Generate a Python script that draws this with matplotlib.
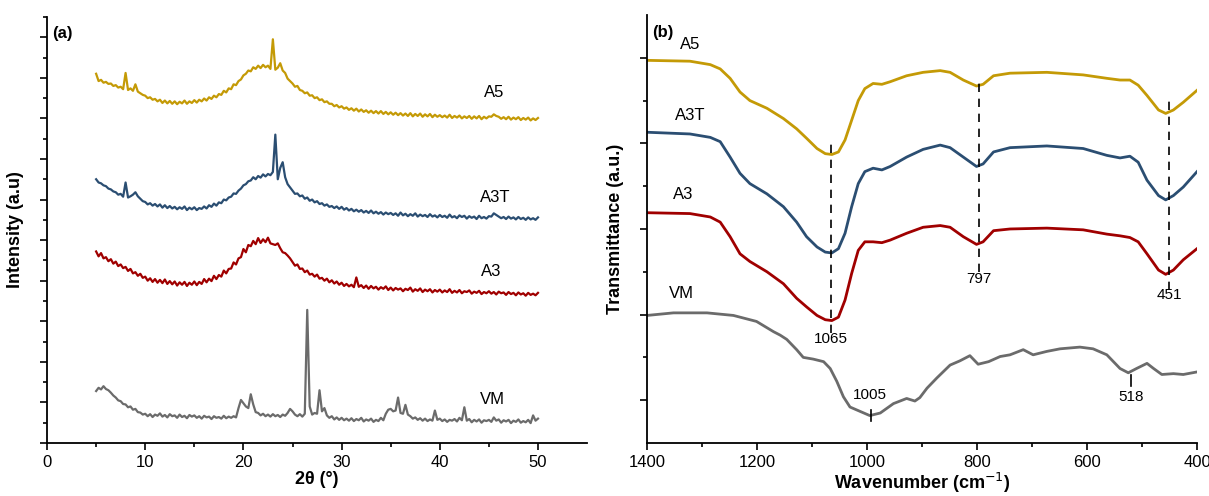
import numpy as np
import matplotlib.pyplot as plt
from matplotlib.ticker import MultipleLocator, FixedLocator

plt.rcParams['font.family'] = ['Liberation Sans', 'DejaVu Sans']

# ---- (a) XRD patterns, 2theta from 5 to 50 deg in 0.25 deg steps ----
two_theta = np.arange(5, 50.01, 0.25)

xrd_vm = [
    1.28, 1.36, 1.32, 1.40, 1.33, 1.30, 1.24, 1.17, 1.12, 1.05, 1.03, 0.96, 0.95, 0.88, 0.90, 0.82, 0.84, 0.76, 0.75, 0.70,
    0.72, 0.66, 0.71, 0.64, 0.70, 0.67, 0.73, 0.65, 0.69, 0.63, 0.71, 0.66, 0.68, 0.62, 0.70, 0.64, 0.67, 0.61, 0.69, 0.65,
    0.68, 0.62, 0.66, 0.60, 0.67, 0.63, 0.65, 0.59, 0.66, 0.62, 0.64, 0.60, 0.67, 0.61, 0.65, 0.62, 0.66, 0.63, 0.86, 1.06,
    0.98, 0.90, 0.86, 1.20, 0.95, 0.76, 0.74, 0.68, 0.72, 0.66, 0.70, 0.65, 0.71, 0.66, 0.69, 0.64, 0.70, 0.67, 0.74, 0.84,
    0.78, 0.70, 0.66, 0.71, 0.65, 0.72, 3.28, 0.90, 0.70, 0.74, 0.72, 1.30, 0.78, 0.86, 0.68, 0.62, 0.66, 0.58, 0.63, 0.57,
    0.62, 0.56, 0.60, 0.55, 0.61, 0.54, 0.59, 0.56, 0.62, 0.53, 0.58, 0.55, 0.60, 0.52, 0.57, 0.54, 0.62, 0.56, 0.72, 0.82,
    0.84, 0.78, 0.80, 1.12, 0.74, 0.72, 0.94, 0.70, 0.66, 0.60, 0.63, 0.57, 0.61, 0.55, 0.60, 0.54, 0.58, 0.55, 0.80, 0.57,
    0.60, 0.54, 0.58, 0.52, 0.57, 0.55, 0.59, 0.53, 0.62, 0.56, 0.88, 0.55, 0.59, 0.51, 0.57, 0.53, 0.58, 0.50, 0.56, 0.54,
    0.57, 0.52, 0.63, 0.55, 0.58, 0.50, 0.56, 0.53, 0.57, 0.49, 0.55, 0.52, 0.58, 0.50, 0.54, 0.51, 0.57, 0.49, 0.68, 0.55,
    0.60]

xrd_a3 = [
    4.72, 4.60, 4.68, 4.55, 4.58, 4.48, 4.53, 4.42, 4.47, 4.36, 4.40, 4.31, 4.34, 4.24, 4.29, 4.18, 4.21, 4.12, 4.17, 4.07,
    4.10, 4.00, 4.06, 3.97, 4.04, 3.95, 4.02, 3.94, 4.03, 3.92, 3.99, 3.91, 3.98, 3.88, 3.96, 3.90, 3.97, 3.87, 3.95, 3.90,
    3.98, 3.89, 3.97, 3.92, 4.04, 3.96, 4.05, 3.99, 4.12, 4.04, 4.14, 4.10, 4.25, 4.18, 4.29, 4.30, 4.45, 4.40, 4.55, 4.58,
    4.78, 4.70, 4.88, 4.85, 4.98, 4.90, 5.05, 4.93, 5.02, 4.95, 5.06, 4.92, 4.90, 4.88, 4.92, 4.80, 4.70, 4.68, 4.62, 4.55,
    4.46, 4.37, 4.40, 4.29, 4.30, 4.21, 4.25, 4.15, 4.17, 4.10, 4.15, 4.05, 4.07, 4.00, 4.05, 3.96, 4.01, 3.93, 3.98, 3.90,
    3.95, 3.87, 3.92, 3.86, 3.90, 3.84, 4.08, 3.85, 3.89, 3.82, 3.88, 3.80, 3.87, 3.81, 3.85, 3.78, 3.84, 3.80, 3.86, 3.77,
    3.83, 3.76, 3.82, 3.78, 3.81, 3.74, 3.80, 3.77, 3.83, 3.73, 3.79, 3.75, 3.81, 3.72, 3.78, 3.74, 3.79, 3.71, 3.77, 3.73,
    3.78, 3.71, 3.76, 3.72, 3.79, 3.70, 3.75, 3.71, 3.77, 3.69, 3.74, 3.72, 3.76, 3.68, 3.73, 3.70, 3.75, 3.67, 3.72, 3.69,
    3.74, 3.68, 3.72, 3.66, 3.73, 3.69, 3.71, 3.65, 3.72, 3.67, 3.70, 3.64, 3.71, 3.66, 3.69, 3.63, 3.70, 3.65, 3.68, 3.64,
    3.70]

xrd_a3t = [
    6.50, 6.42, 6.40, 6.35, 6.33, 6.27, 6.25, 6.20, 6.18, 6.12, 6.14, 6.07, 6.42, 6.05, 6.08, 6.12, 6.18, 6.08, 6.02, 5.96,
    5.94, 5.88, 5.91, 5.85, 5.89, 5.83, 5.88, 5.80, 5.86, 5.79, 5.84, 5.78, 5.82, 5.76, 5.81, 5.77, 5.83, 5.74, 5.80, 5.76,
    5.81, 5.74, 5.79, 5.77, 5.83, 5.78, 5.86, 5.82, 5.90, 5.85, 5.93, 5.91, 6.00, 5.98, 6.05, 6.07, 6.15, 6.14, 6.22, 6.27,
    6.35, 6.38, 6.45, 6.47, 6.55, 6.50, 6.58, 6.54, 6.62, 6.57, 6.63, 6.60, 6.68, 7.60, 6.50, 6.78, 6.92, 6.55, 6.38, 6.30,
    6.22, 6.14, 6.15, 6.08, 6.10, 6.02, 6.05, 5.97, 6.00, 5.93, 5.96, 5.89, 5.91, 5.85, 5.88, 5.82, 5.84, 5.79, 5.83, 5.77,
    5.82, 5.75, 5.79, 5.73, 5.77, 5.71, 5.75, 5.70, 5.74, 5.68, 5.72, 5.67, 5.73, 5.66, 5.70, 5.65, 5.69, 5.63, 5.68, 5.64,
    5.67, 5.62, 5.66, 5.60, 5.68, 5.61, 5.65, 5.59, 5.64, 5.60, 5.66, 5.58, 5.63, 5.59, 5.62, 5.57, 5.64, 5.58, 5.61, 5.56,
    5.62, 5.57, 5.60, 5.55, 5.63, 5.56, 5.59, 5.54, 5.61, 5.57, 5.60, 5.53, 5.59, 5.55, 5.58, 5.52, 5.60, 5.54, 5.57, 5.53,
    5.59, 5.58, 5.66, 5.62, 5.58, 5.54, 5.57, 5.52, 5.58, 5.53, 5.56, 5.51, 5.57, 5.52, 5.55, 5.50, 5.56, 5.51, 5.54, 5.50,
    5.56]

xrd_a5 = [
    9.10, 8.92, 8.95, 8.88, 8.90, 8.85, 8.86, 8.80, 8.82, 8.76, 8.78, 8.72, 9.12, 8.70, 8.74, 8.68, 8.84, 8.66, 8.62, 8.58,
    8.56, 8.50, 8.52, 8.46, 8.48, 8.42, 8.46, 8.38, 8.44, 8.37, 8.43, 8.36, 8.42, 8.35, 8.41, 8.37, 8.44, 8.36, 8.42, 8.38,
    8.45, 8.39, 8.46, 8.42, 8.49, 8.44, 8.52, 8.48, 8.56, 8.52, 8.60, 8.58, 8.68, 8.64, 8.74, 8.72, 8.84, 8.82, 8.92, 8.96,
    9.06, 9.10, 9.18, 9.16, 9.26, 9.22, 9.30, 9.24, 9.32, 9.26, 9.30, 9.22, 9.95, 9.20, 9.25, 9.36, 9.18, 9.12, 8.98, 8.92,
    8.86, 8.78, 8.80, 8.70, 8.68, 8.62, 8.64, 8.56, 8.57, 8.50, 8.52, 8.45, 8.47, 8.40, 8.42, 8.36, 8.36, 8.30, 8.33, 8.27,
    8.30, 8.24, 8.27, 8.21, 8.25, 8.19, 8.24, 8.17, 8.22, 8.16, 8.20, 8.14, 8.19, 8.13, 8.18, 8.12, 8.18, 8.11, 8.16, 8.10,
    8.15, 8.09, 8.14, 8.08, 8.13, 8.07, 8.12, 8.06, 8.13, 8.05, 8.11, 8.06, 8.12, 8.04, 8.10, 8.05, 8.11, 8.03, 8.09, 8.04,
    8.08, 8.03, 8.07, 8.02, 8.09, 8.01, 8.06, 8.02, 8.07, 8.00, 8.05, 8.01, 8.06, 7.99, 8.05, 8.00, 8.06, 7.98, 8.04, 8.00,
    8.05, 8.04, 8.10, 8.06, 8.04, 7.99, 8.03, 7.98, 8.04, 7.97, 8.02, 7.98, 8.03, 7.96, 8.01, 7.97, 8.02, 7.95, 8.00, 7.96,
    8.01]

# ---- (b) FTIR spectra ----
wn_a = [1400, 1322, 1285, 1267, 1249, 1231, 1213, 1182, 1152, 1128,
        1110, 1091, 1076, 1064, 1052, 1040, 1028, 1016, 1004, 989,
        973, 958, 928, 898, 867, 849, 825, 801, 789, 770,
        740, 673, 607, 564, 540, 522, 507, 491, 470, 457,
        443, 425, 400]
ftir_a5 = [4.47, 4.46, 4.42, 4.37, 4.26, 4.10, 4.00, 3.91, 3.79, 3.67,
           3.56, 3.44, 3.38, 3.37, 3.40, 3.54, 3.77, 4.00, 4.14, 4.20,
           4.19, 4.22, 4.29, 4.33, 4.35, 4.33, 4.24, 4.17, 4.19, 4.29,
           4.32, 4.33, 4.30, 4.26, 4.24, 4.24, 4.18, 4.06, 3.89, 3.85,
           3.89, 3.98, 4.12]
ftir_a3t = [3.63, 3.61, 3.57, 3.52, 3.34, 3.15, 3.03, 2.91, 2.76, 2.58,
            2.41, 2.29, 2.23, 2.22, 2.27, 2.45, 2.76, 3.03, 3.17, 3.21,
            3.19, 3.23, 3.34, 3.43, 3.48, 3.45, 3.34, 3.23, 3.26, 3.40,
            3.45, 3.47, 3.44, 3.36, 3.33, 3.35, 3.28, 3.07, 2.89, 2.84,
            2.89, 2.99, 3.17]
ftir_a3 = [2.69, 2.68, 2.64, 2.58, 2.41, 2.21, 2.12, 2.00, 1.86, 1.69,
           1.59, 1.49, 1.44, 1.43, 1.47, 1.67, 1.98, 2.25, 2.35, 2.35,
           2.34, 2.37, 2.45, 2.52, 2.54, 2.52, 2.41, 2.32, 2.35, 2.48,
           2.50, 2.51, 2.49, 2.44, 2.42, 2.40, 2.35, 2.21, 2.02, 1.97,
           2.02, 2.14, 2.27]

wn_vm = [1400, 1352, 1291, 1243, 1201, 1170, 1158, 1146, 1128, 1116,
         1098, 1079, 1067, 1055, 1043, 1031, 1013, 995, 976, 952,
         928, 913, 904, 891, 873, 849, 831, 813, 798, 779,
         758, 740, 716, 698, 673, 649, 613, 589, 564, 540,
         525, 510, 491, 479, 464, 443, 425, 400]
ftir_vm = [1.49, 1.52, 1.52, 1.49, 1.42, 1.30, 1.26, 1.21, 1.09, 1.00,
           0.98, 0.95, 0.87, 0.72, 0.54, 0.42, 0.37, 0.32, 0.35, 0.46,
           0.52, 0.49, 0.53, 0.64, 0.76, 0.91, 0.96, 1.02, 0.92, 0.95,
           1.01, 1.03, 1.09, 1.03, 1.07, 1.10, 1.12, 1.10, 1.03, 0.87,
           0.82, 0.87, 0.93, 0.87, 0.80, 0.81, 0.80, 0.83]

c_a5 = '#C49A06'
c_a3t = '#2B4E72'
c_a3 = '#A00000'
c_vm = '#6B6B6B'

fig = plt.figure(figsize=(12.09, 4.96), dpi=100)
ax1 = fig.add_axes([0.0389, 0.1069, 0.4467, 0.8589])
ax2 = fig.add_axes([0.5352, 0.1069, 0.4549, 0.8629])

for ax in (ax1, ax2):
    ax.spines['top'].set_visible(False)
    ax.spines['right'].set_visible(False)
    for s in ('left', 'bottom'):
        ax.spines[s].set_linewidth(1.3)
    ax.tick_params(which='major', direction='out', length=5, width=1.2, labelsize=12)
    ax.tick_params(which='minor', direction='out', length=3, width=1.2)

# (a)
for y, c in [(xrd_vm, c_vm), (xrd_a3, c_a3), (xrd_a3t, c_a3t), (xrd_a5, c_a5)]:
    ax1.plot(two_theta, y, color=c, lw=1.6)
ax1.set_xlim(0, 55)
ax1.set_ylim(0, 10.5)
ax1.xaxis.set_major_locator(FixedLocator([0, 10, 20, 30, 40, 50]))
ax1.xaxis.set_minor_locator(FixedLocator([5, 15, 25, 35, 45]))
ax1.yaxis.set_major_locator(MultipleLocator(1))
ax1.yaxis.set_minor_locator(MultipleLocator(0.5))
ax1.set_yticklabels([])
ax1.set_xlabel('2θ (°)', fontsize=13, fontweight='bold', labelpad=1)
ax1.set_ylabel('Intensity (a.u)', fontsize=13, fontweight='bold', labelpad=8)
ax1.text(1.6, 10.09, '(a)', fontsize=12, fontweight='bold', ha='center', va='center')
ax1.text(45.5, 8.65, 'A5', fontsize=12, ha='center', va='center')
ax1.text(45.6, 6.04, 'A3T', fontsize=12, ha='center', va='center')
ax1.text(45.2, 4.23, 'A3', fontsize=12, ha='center', va='center')
ax1.text(45.4, 1.06, 'VM', fontsize=12, ha='center', va='center')

# (b)
ax2.plot(wn_vm, ftir_vm, color=c_vm, lw=2, solid_joinstyle='round')
ax2.plot(wn_a, ftir_a3, color=c_a3, lw=2, solid_joinstyle='round')
ax2.plot(wn_a, ftir_a3t, color=c_a3t, lw=2, solid_joinstyle='round')
ax2.plot(wn_a, ftir_a5, color=c_a5, lw=2, solid_joinstyle='round')
ax2.set_xlim(1400, 400)
ax2.set_ylim(0, 5)
ax2.xaxis.set_major_locator(MultipleLocator(200))
ax2.xaxis.set_minor_locator(MultipleLocator(100))
ax2.yaxis.set_major_locator(FixedLocator([0.5, 1.5, 2.5, 3.5, 4.5]))
ax2.yaxis.set_minor_locator(FixedLocator([1, 2, 3, 4]))
ax2.set_yticklabels([])
ax2.set_xlabel('Wavenumber (cm$^{-1}$)', fontsize=13, fontweight='bold', labelpad=1)
ax2.set_ylabel('Transmittance (a.u.)', fontsize=13, fontweight='bold', labelpad=8)

for x, y0, y1 in [(1065, 1.28, 3.52), (797, 2.00, 4.24), (451, 1.79, 4.05)]:
    ax2.plot([x, x], [y0, y1], color='black', lw=1.2, ls=(0, (5, 4)))
ax2.text(1065, 1.21, '1065', fontsize=11, ha='center', va='center')
ax2.text(797, 1.91, '797', fontsize=11, ha='center', va='center')
ax2.text(451, 1.73, '451', fontsize=11, ha='center', va='center')
ax2.plot([993, 993], [0.26, 0.39], color='black', lw=1.2)
ax2.text(995, 0.56, '1005', fontsize=11, ha='center', va='center')
ax2.plot([520, 520], [0.66, 0.79], color='black', lw=1.2)
ax2.text(520, 0.54, '518', fontsize=11, ha='center', va='center')

ax2.text(1372, 4.79, '(b)', fontsize=12, fontweight='bold', ha='center', va='center')
ax2.text(1321, 4.65, 'A5', fontsize=12, ha='center', va='center')
ax2.text(1322, 3.83, 'A3T', fontsize=12, ha='center', va='center')
ax2.text(1335, 2.90, 'A3', fontsize=12, ha='center', va='center')
ax2.text(1338, 1.75, 'VM', fontsize=12, ha='center', va='center')

fig.savefig('out.png', dpi=100)
